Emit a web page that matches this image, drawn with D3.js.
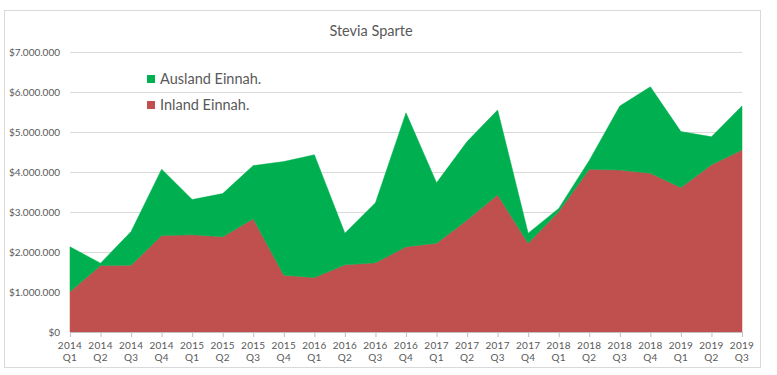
<!DOCTYPE html>
<html>
<head>
<meta charset="utf-8">
<script src="https://cdnjs.cloudflare.com/ajax/libs/d3/7.8.5/d3.min.js"></script>
<style>
  body { margin: 0; background: #fff; }
  svg text { font-family: Lato, "Open Sans", sans-serif; fill: #595959; }
</style>
</head>
<body>
<svg id="chart" width="777" height="375"></svg>
<script>
// quarters, two lines per label
var quarters = ['2014 Q1', '2014 Q2', '2014 Q3', '2014 Q4',
                '2015 Q1', '2015 Q2', '2015 Q3', '2015 Q4',
                '2016 Q1', '2016 Q2', '2016 Q3', '2016 Q4',
                '2017 Q1', '2017 Q2', '2017 Q3', '2017 Q4',
                '2018 Q1', '2018 Q2', '2018 Q3', '2018 Q4',
                '2019 Q1', '2019 Q2', '2019 Q3'];

// Inland Einnahmen (bottom series)
var inland = [1010000, 1660000, 1670000, 2410000,
              2430000, 2380000, 2830000, 1420000,
              1360000, 1680000, 1730000, 2130000,
              2220000, 2800000, 3430000, 2220000,
              3010000, 4070000, 4050000, 3970000,
              3610000, 4180000, 4550000];

// Ausland Einnahmen (stacked on top)
var ausland = [1120000, 60000, 840000, 1660000,
               880000, 1080000, 1330000, 2840000,
               3070000, 790000, 1500000, 3350000,
               1510000, 1960000, 2120000, 250000,
               80000, 220000, 1600000, 2160000,
               1400000, 700000, 1100000];

var yTicks = [0, 1000000, 2000000, 3000000, 4000000, 5000000, 6000000, 7000000];

var seriesNames = ['Inland Einnah.', 'Ausland Einnah.'],
    seriesColors = ['#C0504D', '#00B050'];

var svg = d3.select('#chart'),
    margin = {left: 70, right: 35, top: 52, bottom: 43},
    width = 777 - margin.left - margin.right,
    height = 375 - margin.top - margin.bottom;

// outer frame like the excel chart area
svg.append('rect')
    .attr('x', 4.5).attr('y', 10.5)
    .attr('width', 756).attr('height', 357)
    .attr('fill', '#fff')
    .attr('stroke', '#d9d9d9');

var table = quarters.map(function (q, i) {
    return {q: q, inland: inland[i], ausland: ausland[i]};
});

var x = d3.scalePoint().domain(quarters).range([0, width]),
    y = d3.scaleLinear().domain([0, 7000000]).range([height, 0]);

var g = svg.append('g')
    .attr('transform', 'translate(' + margin.left + ',' + margin.top + ')');

// gridlines
g.append('g').selectAll('line')
    .data(yTicks.slice(1))
    .enter().append('line')
    .attr('x1', 0).attr('x2', width)
    .attr('y1', function (d) { return Math.round(y(d)) + 0.5; })
    .attr('y2', function (d) { return Math.round(y(d)) + 0.5; })
    .attr('stroke', '#d9d9d9');

var stack = d3.stack().keys(['inland', 'ausland']),
    layers = stack(table);

var area = d3.area()
    .x(function (d) { return x(d.data.q); })
    .y0(function (d) { return y(d[0]); })
    .y1(function (d) { return y(d[1]); });

g.selectAll('path.layer')
    .data(layers)
    .enter().append('path')
    .attr('class', 'layer')
    .attr('d', area)
    .attr('fill', function (d, i) { return seriesColors[i]; })
    .attr('stroke', function (d, i) { return seriesColors[i]; })
    .attr('stroke-width', 0.5);

// y axis labels
var yFmt = function (d) {
    return d === 0 ? '$0' : '$' + d3.format(',')(d).replace(/,/g, '.');
};
g.append('g').selectAll('text')
    .data(yTicks)
    .enter().append('text')
    .attr('x', -10)
    .attr('y', function (d) { return y(d); })
    .attr('dy', '0.35em')
    .attr('text-anchor', 'end')
    .style('font-size', '10px')
    .text(yFmt);

// x axis
var xAxis = g.append('g')
    .attr('transform', 'translate(0,' + height + ')')
    .call(d3.axisBottom(x).tickSizeOuter(0).tickSize(5).tickFormat(''));
xAxis.select('.domain').attr('stroke', '#bfbfbf');
xAxis.selectAll('.tick line').attr('stroke', '#bfbfbf');

var xl = g.append('g').selectAll('text')
    .data(quarters)
    .enter().append('text')
    .attr('x', function (d) { return x(d); })
    .attr('y', height + 17)
    .attr('text-anchor', 'middle')
    .style('font-size', '10px')
    .style('letter-spacing', '0.3px');
xl.append('tspan').attr('x', function (d) { return x(d); })
    .text(function (d) { return d.split(' ')[0]; });
xl.append('tspan').attr('x', function (d) { return x(d); }).attr('dy', 12)
    .text(function (d) { return d.split(' ')[1]; });

// title
svg.append('text')
    .attr('x', 371).attr('y', 36)
    .attr('text-anchor', 'middle')
    .style('font-size', '14.5px')
    .text('Stevia Sparte');

// legend (Ausland on top)
var legend = svg.append('g').attr('transform', 'translate(147,75)');
[1, 0].forEach(function (k, i) {
    var row = legend.append('g').attr('transform', 'translate(0,' + (i * 26) + ')');
    row.append('rect').attr('width', 8).attr('height', 8).attr('fill', seriesColors[k]);
    row.append('text').attr('x', 13).attr('y', 9)
        .style('font-size', '14.5px')
        .text(seriesNames[k]);
});
</script>
</body>
</html>
